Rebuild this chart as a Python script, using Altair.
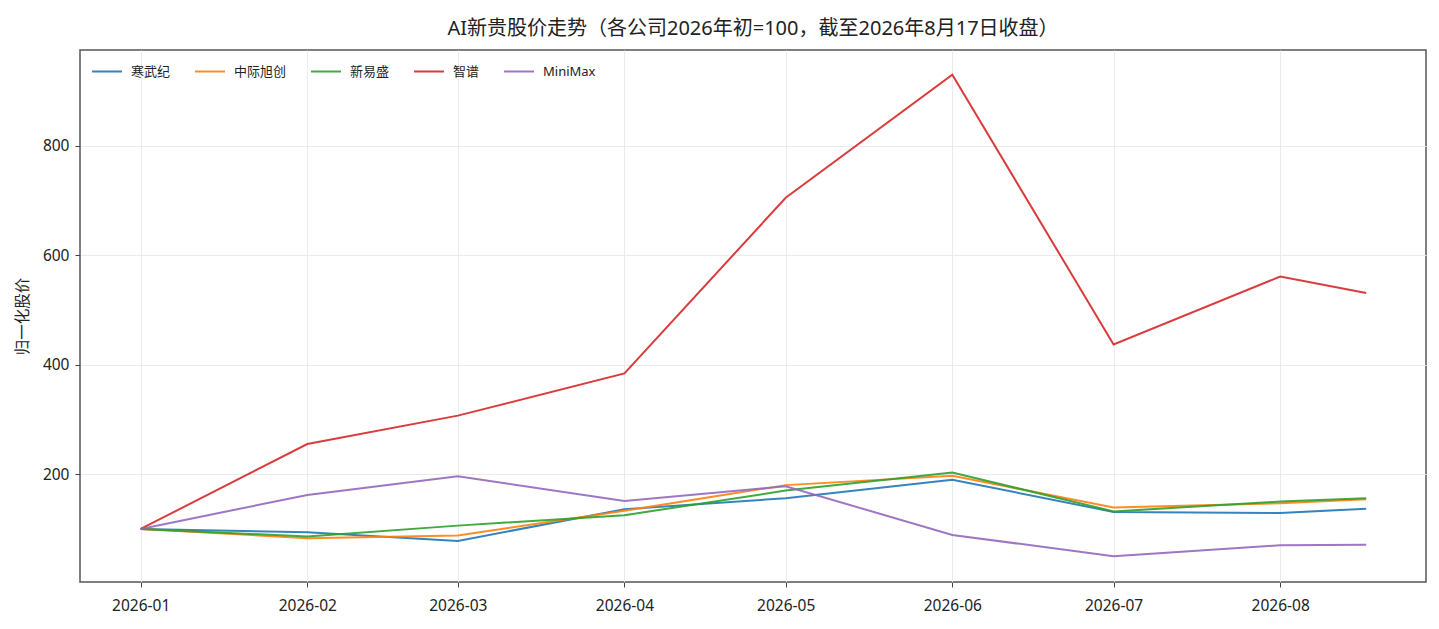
import altair as alt
import pandas as pd

dates = ["2026-01-01", "2026-02-01", "2026-03-01", "2026-04-01", "2026-05-01",
         "2026-06-01", "2026-07-01", "2026-08-01", "2026-08-17"]

companies = ["寒武纪", "中际旭创", "新易盛", "智谱", "MiniMax"]
colors = ["#1f77b4", "#ff7f0e", "#2ca02c", "#d62728", "#9467bd"]

cambricon = [100, 94, 78, 136, 156, 190, 131, 129, 137]
zhongji = [100, 83, 88, 133, 180, 197, 139, 147, 154]
eoptolink = [100, 86, 106, 125, 170, 203, 132, 150, 156]
zhipu = [100, 255, 307, 384, 705, 930, 437, 561, 531]
minimax = [100, 162, 196, 151, 178, 89, 50, 70, 71]

series = [cambricon, zhongji, eoptolink, zhipu, minimax]

rows = []
for name, values in zip(companies, series):
    for d, v in zip(dates, values):
        rows.append({"date": d, "company": name, "value": v})
df = pd.DataFrame(rows)

FONT = "'Noto Sans', 'Noto Sans CJK SC', sans-serif"
month_ticks = [alt.DateTime(year=2026, month=m, date=1, utc=True) for m in range(1, 9)]

chart = alt.Chart(df).mark_line(strokeWidth=2, clip=True, opacity=0.9).encode(
    x=alt.X(
        "date:T",
        title=None,
        scale=alt.Scale(type="utc", domain=[
            alt.DateTime(year=2025, month=12, date=20, hours=17, utc=True),
            alt.DateTime(year=2026, month=8, date=28, hours=3, utc=True),
        ]),
        axis=alt.Axis(values=month_ticks, format="%Y-%m",
                      labelFontSize=15.5, labelPadding=11, tickSize=5),
    ),
    y=alt.Y(
        "value:Q",
        title="归一化股价",
        scale=alt.Scale(domain=[3, 975], nice=False, zero=False),
        axis=alt.Axis(values=[200, 400, 600, 800], labelFontSize=15.5,
                      labelPadding=6, titleFontSize=15.5, titlePadding=12,
                      tickSize=5, titleFontWeight="normal"),
    ),
    color=alt.Color(
        "company:N",
        sort=companies,
        scale=alt.Scale(domain=companies, range=colors),
        legend=alt.Legend(
            title=None, orient="none", legendX=11, legendY=5.5,
            direction="horizontal", columns=5, symbolType="stroke",
            symbolSize=900, symbolStrokeWidth=2, labelFontSize=13,
            labelOffset=8, columnPadding=20, padding=0,
        ),
    ),
).properties(
    width=1346,
    height=532,
    autosize=alt.AutoSizeParams(type="none"),
    padding={"left": 72, "top": 42, "right": 5, "bottom": 39},
    title=alt.TitleParams(
        "AI新贵股价走势（各公司2026年初=100，截至2026年8月17日收盘）",
        fontSize=20, fontWeight="normal", offset=11, anchor="middle",
    ),
).configure(
    font=FONT,
).configure_axis(
    labelFont=FONT, titleFont=FONT, labelColor="#222", titleColor="#222",
    gridColor="#ebebeb", gridWidth=1, domain=False, tickColor="#444",
).configure_view(
    stroke="#555", strokeWidth=1.5,
).configure_legend(
    labelFont=FONT, labelColor="#222",
).configure_title(
    font=FONT, color="#222",
)

chart.save("out.html", embed_options={"renderer": "svg", "actions": False})
